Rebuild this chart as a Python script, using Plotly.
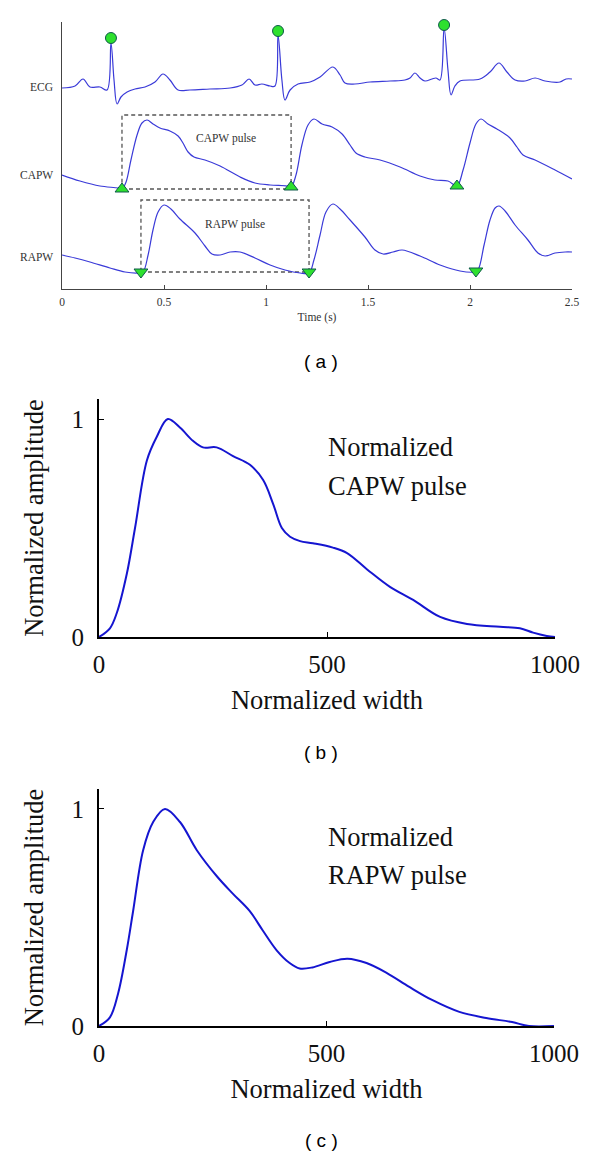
import plotly.graph_objects as go

# ---- panel (a): raw signals, time in s, amplitude in arbitrary units ----
ecg_t = [0.000, 0.064, 0.103, 0.137, 0.186, 0.221, 0.240, 0.255, 0.270, 0.289, 0.319, 0.358,
         0.407, 0.456, 0.495, 0.529, 0.569, 0.627, 0.725, 0.824, 0.882, 0.917, 0.946, 0.980,
         1.020, 1.044, 1.059, 1.078, 1.093, 1.118, 1.157, 1.216, 1.265, 1.328, 1.363, 1.387,
         1.436, 1.510, 1.608, 1.681, 1.706, 1.730, 1.755, 1.779, 1.814, 1.833, 1.853, 1.873,
         1.892, 1.907, 1.926, 1.951, 2.049, 2.098, 2.142, 2.181, 2.221, 2.270, 2.319, 2.368,
         2.441, 2.471, 2.500]
ecg_v = [2.01, 2.03, 2.10, 2.02, 2.02, 1.99, 2.46, 2.09, 1.85, 1.92, 1.97, 2.00,
         2.02, 2.07, 2.15, 2.09, 1.99, 1.99, 2.00, 2.01, 2.04, 2.10, 2.04, 2.05,
         2.03, 2.03, 2.54, 2.09, 1.89, 1.99, 2.05, 2.07, 2.12, 2.22, 2.14, 2.06,
         2.05, 2.07, 2.08, 2.09, 2.11, 2.16, 2.11, 2.08, 2.10, 2.11, 2.09, 2.61,
         2.19, 1.94, 2.03, 2.08, 2.10, 2.17, 2.26, 2.17, 2.09, 2.08, 2.11, 2.08,
         2.07, 2.10, 2.10]

capw_t = [0.000, 0.088, 0.186, 0.275, 0.294, 0.314, 0.338, 0.368, 0.392, 0.417, 0.446, 0.480,
          0.529, 0.569, 0.593, 0.618, 0.647, 0.701, 0.775, 0.873, 0.946, 1.020, 1.103, 1.123,
          1.147, 1.176, 1.206, 1.235, 1.275, 1.324, 1.373, 1.412, 1.441, 1.485, 1.559, 1.657,
          1.755, 1.828, 1.892, 1.936, 1.966, 2.000, 2.029, 2.054, 2.088, 2.132, 2.196, 2.230,
          2.260, 2.319, 2.417, 2.500]
capw_v = [1.14, 1.08, 1.03, 1.01, 1.00, 1.07, 1.29, 1.54, 1.66, 1.69, 1.65, 1.61,
          1.58, 1.53, 1.46, 1.37, 1.32, 1.29, 1.23, 1.12, 1.06, 1.04, 1.03, 1.02,
          1.14, 1.44, 1.64, 1.70, 1.65, 1.62, 1.55, 1.44, 1.36, 1.32, 1.29, 1.22,
          1.13, 1.09, 1.08, 1.03, 1.19, 1.46, 1.65, 1.70, 1.65, 1.60, 1.51, 1.42,
          1.34, 1.29, 1.19, 1.10]

rapw_t = [0.000, 0.064, 0.137, 0.235, 0.309, 0.373, 0.397, 0.422, 0.446, 0.471, 0.500, 0.534,
          0.578, 0.652, 0.701, 0.735, 0.775, 0.824, 0.873, 0.946, 1.020, 1.093, 1.167, 1.211,
          1.235, 1.265, 1.294, 1.328, 1.363, 1.412, 1.485, 1.534, 1.574, 1.623, 1.667, 1.755,
          1.853, 1.951, 2.020, 2.039, 2.069, 2.098, 2.123, 2.142, 2.172, 2.221, 2.284, 2.333,
          2.368, 2.417, 2.466, 2.500]
rapw_v = [0.34, 0.31, 0.27, 0.21, 0.17, 0.16, 0.17, 0.34, 0.59, 0.77, 0.84, 0.80,
          0.70, 0.56, 0.43, 0.35, 0.34, 0.37, 0.37, 0.31, 0.24, 0.19, 0.16, 0.16,
          0.29, 0.54, 0.77, 0.85, 0.80, 0.69, 0.52, 0.39, 0.35, 0.37, 0.39, 0.33,
          0.24, 0.18, 0.17, 0.19, 0.44, 0.69, 0.81, 0.83, 0.78, 0.64, 0.49, 0.36,
          0.33, 0.36, 0.37, 0.37]

# fiducial points
rpeak_t = [0.240, 1.059, 1.873]
rpeak_v = [2.51, 2.58, 2.64]
capw_foot_t = [0.294, 1.123, 1.936]
capw_foot_v = [1.00, 1.02, 1.03]
rapw_foot_t = [0.387, 1.211, 2.029]
rapw_foot_v = [0.17, 0.17, 0.18]
capw_box_top = 1.74
rapw_box_top = 0.89

# ---- panels (b), (c): normalized pulses ----
capw_nx = [0, 24, 39, 61, 79, 105, 127, 151, 178, 206, 228, 258, 294, 331, 360, 382, 401,
           419, 441, 469, 513, 544, 588, 638, 689, 748, 807, 879, 923, 952, 982, 1000]
capw_ny = [0, 0.04, 0.11, 0.29, 0.50, 0.81, 0.92, 1.0, 0.96, 0.90, 0.87, 0.87, 0.83, 0.79,
           0.72, 0.61, 0.50, 0.46, 0.44, 0.43, 0.41, 0.385, 0.31, 0.23, 0.17, 0.092, 0.06,
           0.047, 0.04, 0.02, 0.005, 0]

rapw_nx = [0, 24, 42, 61, 75, 97, 119, 145, 178, 215, 259, 294, 331, 360, 390, 419, 441,
           469, 507, 546, 588, 632, 682, 732, 792, 851, 908, 945, 1000]
rapw_ny = [0, 0.04, 0.15, 0.35, 0.53, 0.81, 0.94, 1.0, 0.94, 0.81, 0.69, 0.61, 0.53, 0.44,
           0.35, 0.29, 0.265, 0.27, 0.295, 0.31, 0.29, 0.245, 0.18, 0.12, 0.065, 0.037,
           0.018, 0.0, 0]

# the page body keeps its default 8px margin, so the figure starts at (8, 8)
OFF = 8
W = 600 - OFF
H = 1158 - OFF
def px(p):
    return (p - OFF) / W
def py(p):
    return 1 - (p - OFF) / H

serif = "Liberation Serif"
blue = "#3a3ad8"
green = "#2ee02e"
mk_line = "#0e5a4a"

fig = go.Figure()

# panel a
for xs, ys in [(ecg_t, ecg_v), (capw_t, capw_v), (rapw_t, rapw_v)]:
    fig.add_trace(go.Scatter(x=xs, y=ys, mode="lines", line=dict(color=blue, width=1.2),
                             line_shape="spline", xaxis="x", yaxis="y"))
for xs, ys, sym, sz in [(rpeak_t, rpeak_v, "circle", 11),
                        (capw_foot_t, capw_foot_v, "triangle-up", 12),
                        (rapw_foot_t, rapw_foot_v, "triangle-down", 12)]:
    fig.add_trace(go.Scatter(x=xs, y=ys, mode="markers", cliponaxis=False,
                             marker=dict(symbol=sym, size=sz, color=green,
                                         line=dict(color=mk_line, width=1)),
                             xaxis="x", yaxis="y"))

# dashed boxes spanning one pulse
for ft, fv, top in [(capw_foot_t, capw_foot_v, capw_box_top), (rapw_foot_t, rapw_foot_v, rapw_box_top)]:
    fig.add_shape(type="rect", xref="x", yref="y", x0=ft[0], x1=ft[1], y0=fv[0], y1=top,
                  line=dict(color="#555555", width=1.3, dash="4px,3px"), layer="below")

# panel b, c
fig.add_trace(go.Scatter(x=capw_nx, y=capw_ny, mode="lines", line=dict(color="#1515d0", width=2),
                         line_shape="spline", xaxis="x2", yaxis="y2"))
fig.add_trace(go.Scatter(x=rapw_nx, y=rapw_ny, mode="lines", line=dict(color="#1515d0", width=2),
                         line_shape="spline", xaxis="x3", yaxis="y3"))

small = dict(family=serif, size=11.5, color="#333333")
tickf = dict(family=serif, size=25, color="#111111")
big = dict(family=serif, size=26.5, color="#111111")

bx = dict(range=[0, 1000], tickvals=[0, 500, 1000], ticks="inside", ticklen=5, tickcolor="black",
          showline=True, linecolor="black", linewidth=1.8, showgrid=False, zeroline=False,
          tickfont=tickf, ticklabelstandoff=4, automargin=False,
          title=dict(text="Normalized width", font=big, standoff=14))
by = dict(range=[0, 1.092], tickvals=[0, 1], ticks="inside", ticklen=5, tickcolor="black",
          showline=True, linecolor="black", linewidth=1.8, showgrid=False, zeroline=False,
          tickfont=tickf, ticklabelstandoff=8, automargin=False,
          title=dict(text="Normalized amplitude", font=big, standoff=20))

fig.update_layout(
    width=W, height=H, margin=dict(l=0, r=0, t=0, b=0),
    paper_bgcolor="white", plot_bgcolor="white", showlegend=False,
    xaxis=dict(domain=[px(62), px(572)], range=[0, 2.5], tickvals=[0, 0.5, 1, 1.5, 2, 2.5],
               ticktext=["0", "0.5", "1", "1.5", "2", "2.5"], ticks="inside", ticklen=4,
               tickcolor="#444", showline=True, linecolor="#444", linewidth=1, showgrid=False,
               zeroline=False, tickfont=small, ticklabelstandoff=2, automargin=False, anchor="y",
               title=dict(text="Time (s)", font=small, standoff=6)),
    yaxis=dict(domain=[py(289), py(22)], range=[0, 2.67], showticklabels=False, ticks="",
               showline=True, linecolor="#444", linewidth=1, showgrid=False, zeroline=False,
               automargin=False, anchor="x"),
    xaxis2=dict(bx, domain=[px(99), px(555)], anchor="y2"),
    yaxis2=dict(by, domain=[py(637), py(399)], anchor="x2"),
    xaxis3=dict(bx, domain=[px(99), px(554)], anchor="y3"),
    yaxis3=dict(by, domain=[py(1026), py(789)], anchor="x3"),
)

# signal labels on the left of panel a
for name, yv in [("ECG", 2.02), ("CAPW", 1.14), ("RAPW", 0.32)]:
    fig.add_annotation(x=px(55), xref="paper", y=yv, yref="y", text=name, showarrow=False,
                       xanchor="right", font=small)
fig.add_annotation(x=0.804, y=1.51, xref="x", yref="y", text="CAPW pulse", showarrow=False, font=small)
fig.add_annotation(x=0.848, y=0.65, xref="x", yref="y", text="RAPW pulse", showarrow=False, font=small)

# text inside panels b, c
for txt, yp in [("Normalized", 447), ("CAPW pulse", 486), ("Normalized", 837), ("RAPW pulse", 875)]:
    fig.add_annotation(x=px(326), y=py(yp), xref="paper", yref="paper", text=txt, showarrow=False,
                       xanchor="left", yanchor="middle", font=big)

# sub-figure letters
for txt, yp in [("( a )", 362), ("( b )", 752), ("( c )", 1140)]:
    fig.add_annotation(x=px(321), y=py(yp), xref="paper", yref="paper", text=txt, showarrow=False,
                       xanchor="center", yanchor="middle",
                       font=dict(family="Liberation Sans", size=19, color="black"))

fig.write_html("out.html")
